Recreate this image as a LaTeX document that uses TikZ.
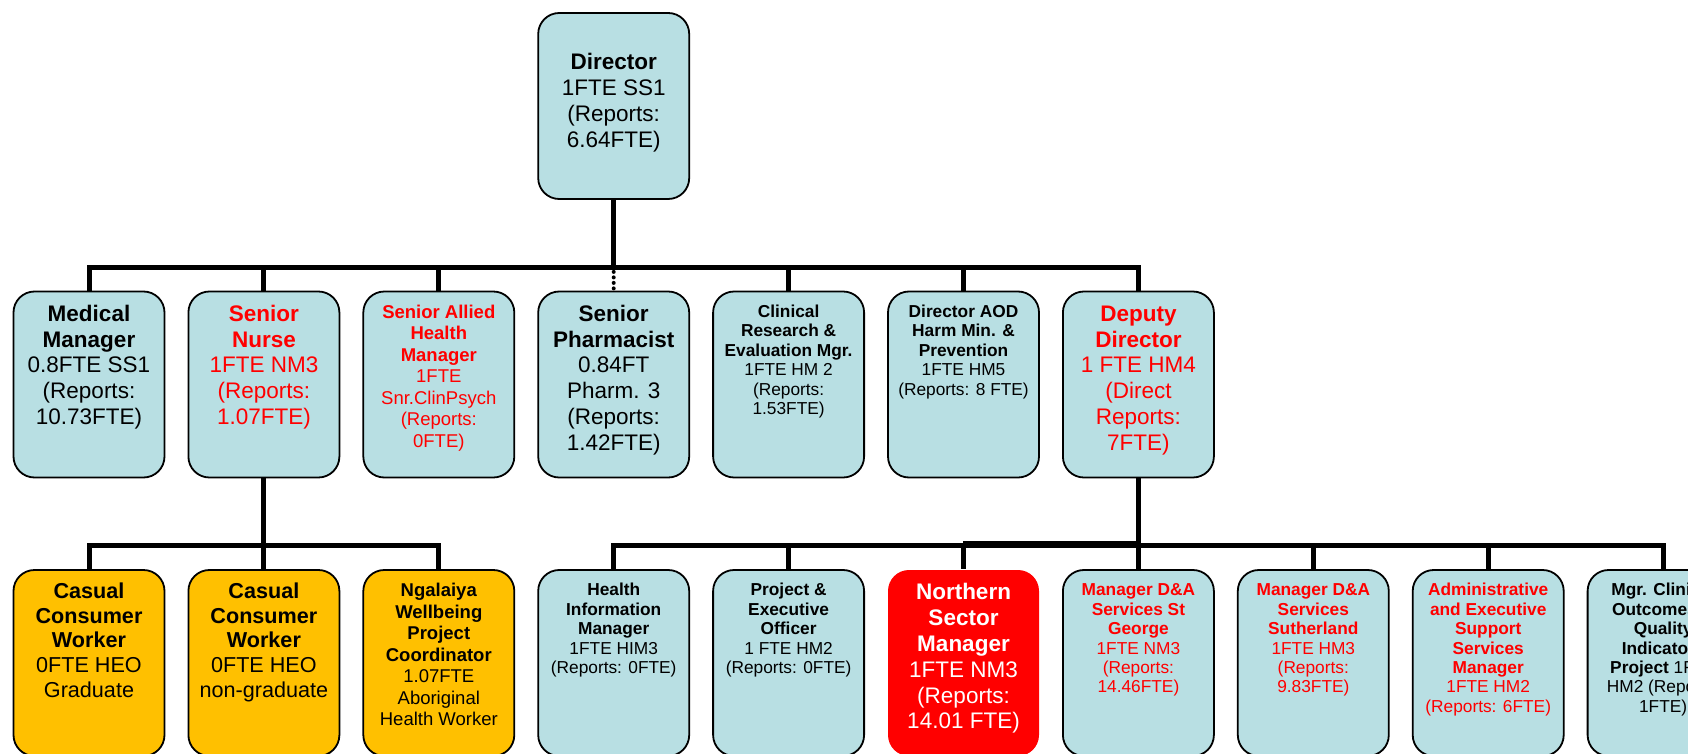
\documentclass[tikz,border=0pt]{standalone}
\usepackage{fontspec}
\setmainfont{Liberation Sans}
\definecolor{cardblue}{RGB}{184,223,227}
\definecolor{cardorange}{RGB}{255,192,0}
\definecolor{cardred}{RGB}{255,0,0}
\newcommand{\bigtxt}{\fontsize{22.5}{25.8}\selectfont}
\newcommand{\castxt}{\fontsize{21.6}{24.8}\selectfont}
\newcommand{\midtxt}{\fontsize{18.5}{21.5}\selectfont}
\newcommand{\smalltxt}{\fontsize{17.3}{19.4}\selectfont}
\newcommand{\cardtext}[3][13pt]{\parbox[c][186pt][t]{147pt}{\centering#2\vspace*{#1}\rule{0pt}{0.75em}#3}}
\begin{document}
\begin{tikzpicture}[
    x=1pt, y=1pt,
    level distance=278.5pt,
    level 1/.style={sibling distance=174.9pt},
    level 2/.style={sibling distance=174.9pt},
    edge from parent/.style={draw=none},
    card/.style={draw, line width=1.8pt, rounded corners=21pt, fill=cardblue,
        inner sep=0pt, minimum width=151pt, minimum height=186pt},
    casual/.style={card, fill=cardorange},
    alert/.style={card, draw=none, fill=cardred, text=white},
    redtext/.style={text=cardred},
    bus/.style={line width=5pt},
    dotlink/.style={line width=4pt, line cap=round, dash pattern=on 0pt off 5.5pt},
    thinlink/.style={line width=2pt}
    ]
    \useasboundingbox (0,0) rectangle (1688,-754);
    \clip (0,0) rectangle (1688,-754);
    \node[card] (dir) at (613.7,-106) {\cardtext[40pt]{\bigtxt}{\textbf{Director}\\1FTE SS1\\(Reports:\\6.64FTE)}}
        child {node[card] (med) {\cardtext{\bigtxt}{\textbf{Medical}\\\textbf{Manager}\\0.8FTE SS1\\(Reports:\\10.73FTE)}}}
        child {node[card, redtext] (nurse) {\cardtext{\bigtxt}{\textbf{Senior}\\\textbf{Nurse}\\1FTE NM3\\(Reports:\\1.07FTE)}}
        child {node[casual] (cas1) {\cardtext[12pt]{\castxt}{\textbf{Casual}\\\textbf{Consumer}\\\textbf{Worker}\\0FTE HEO\\Graduate}}}
        child {node[casual] (cas2) {\cardtext[12pt]{\castxt}{\textbf{Casual}\\\textbf{Consumer}\\\textbf{Worker}\\0FTE HEO\\non-graduate}}}
        child {node[casual] (ngal) {\cardtext{\midtxt}{\textbf{Ngalaiya}\\\textbf{Wellbeing}\\\textbf{Project}\\\textbf{Coordinator}\\1.07FTE\\Aboriginal\\Health Worker}}}
        }
        child {node[card, redtext] (allied) {\cardtext{\midtxt}{\textbf{Senior Allied}\\\textbf{Health}\\\textbf{Manager}\\1FTE\\Snr.ClinPsych\\(Reports:\\0FTE)}}}
        child {node[card] (pharm) {\cardtext{\bigtxt}{\textbf{Senior}\\\textbf{Pharmacist}\\0.84FT\\Pharm. 3\\(Reports:\\1.42FTE)}}}
        child {node[card] (clin) {\cardtext{\smalltxt}{\textbf{Clinical}\\\textbf{Research \&}\\\textbf{Evaluation Mgr.}\\1FTE HM 2\\(Reports:\\1.53FTE)}}}
        child {node[card] (aod) {\cardtext{\smalltxt}{\textbf{Director AOD}\\\textbf{Harm Min. \&}\\\textbf{Prevention}\\1FTE HM5\\(Reports: 8 FTE)}}}
        child {node[card, redtext] (dep) {\cardtext{\bigtxt}{\textbf{Deputy}\\\textbf{Director}\\1 FTE HM4\\(Direct\\Reports:\\7FTE)}}
        child {node[card] (him) {\cardtext{\smalltxt}{\textbf{Health}\\\textbf{Information}\\\textbf{Manager}\\1FTE HIM3\\(Reports: 0FTE)}}}
        child {node[card] (proj) {\cardtext{\smalltxt}{\textbf{Project \&}\\\textbf{Executive}\\\textbf{Officer}\\1 FTE HM2\\(Reports: 0FTE)}}}
        child {node[alert] (nsm) {\cardtext{\bigtxt}{\textbf{Northern}\\\textbf{Sector}\\\textbf{Manager}\\1FTE NM3\\(Reports:\\14.01 FTE)}}}
        child {node[card, redtext] (stg) {\cardtext{\smalltxt}{\textbf{Manager D\&A}\\\textbf{Services St}\\\textbf{George}\\1FTE NM3\\(Reports:\\14.46FTE)}}}
        child {node[card, redtext] (suth) {\cardtext{\smalltxt}{\textbf{Manager D\&A}\\\textbf{Services}\\\textbf{Sutherland}\\1FTE HM3\\(Reports:\\9.83FTE)}}}
        child {node[card, redtext] (admin) {\cardtext{\smalltxt}{\textbf{Administrative}\\\textbf{and Executive}\\\textbf{Support}\\\textbf{Services}\\\textbf{Manager}\\1FTE HM2\\(Reports: 6FTE)}}}
        child {node[card] (qual) {\cardtext{\smalltxt}{\textbf{Mgr. Clinical}\\\textbf{Outcomes \&}\\\textbf{Quality}\\\textbf{Indicators}\\\textbf{Project} 1FTE\\HM2 (Reports:\\1FTE)}}}
        };
    \foreach \kid in {med,nurse,allied,clin,aod,dep}
        \draw[bus] (dir.south) -- ++(0,-67.5) -| (\kid.north);
    \draw[bus] (dir.south) -- ++(0,-67.5);
    \draw[dotlink] (dir.south) ++(0,-72) -- (pharm.north);
    \foreach \kid in {cas1,cas2,ngal}
        \draw[bus] (nurse.south) -- ++(0,-67.5) -| (\kid.north);
    \draw[thinlink] (dep.south) -- ++(0,-63.5) -| (nsm.north);
    \foreach \kid in {him,proj,nsm,stg,suth,admin,qual}
        \draw[bus] (dep.south) -- ++(0,-67.5) -| (\kid.north);
\end{tikzpicture}
\end{document}
